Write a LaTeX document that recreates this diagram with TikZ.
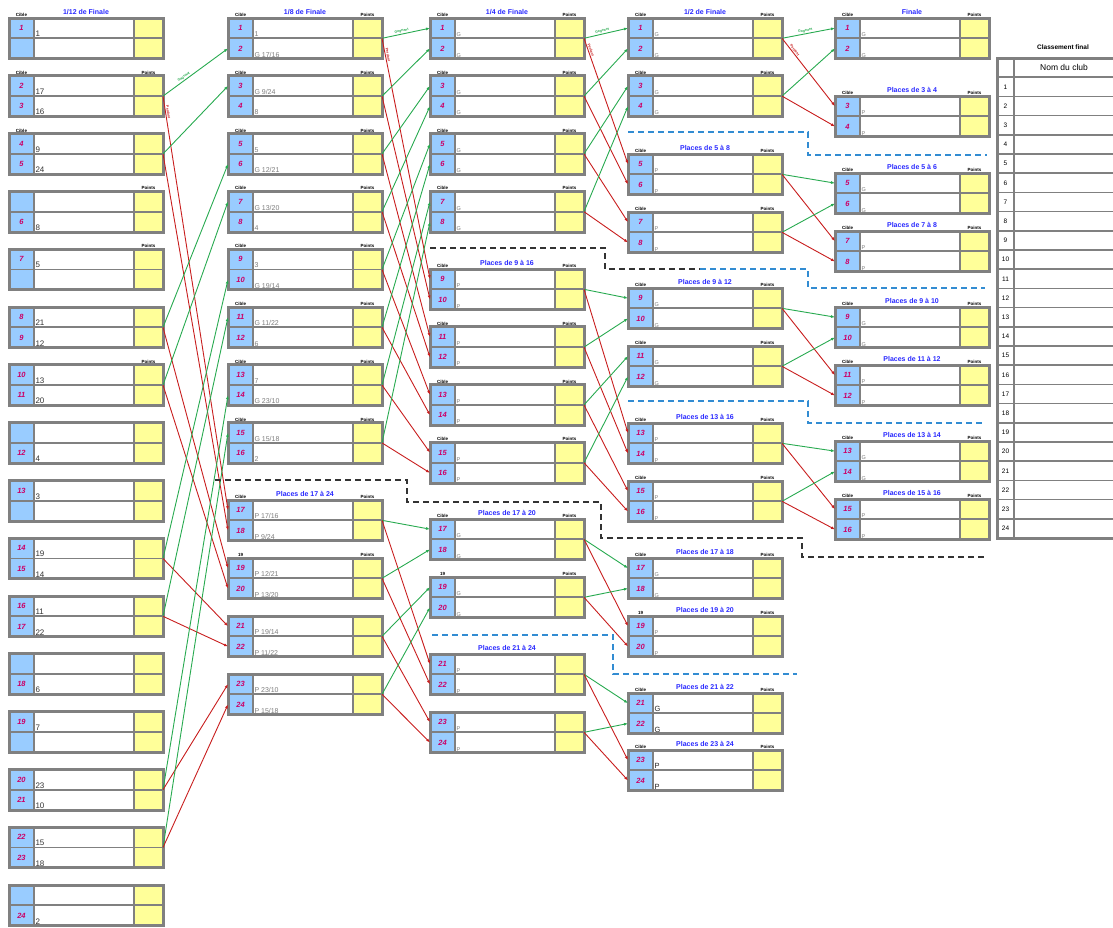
\documentclass[tikz,border=0pt]{standalone}
\usepackage{fontspec}
\setmainfont{Liberation Sans}
\usetikzlibrary{arrows.meta,positioning,fit}
\definecolor{cibleblue}{RGB}{153,204,255}
\definecolor{pointsyellow}{RGB}{255,255,153}
\definecolor{framegray}{RGB}{128,128,128}
\definecolor{titleblue}{RGB}{40,40,255}
\definecolor{ciblepink}{RGB}{204,0,102}
\definecolor{winnergreen}{RGB}{40,170,80}
\definecolor{loserred}{RGB}{200,30,30}
\definecolor{namegray}{RGB}{125,125,125}
\definecolor{sepblue}{RGB}{50,140,210}
\tikzset{
    % Cells of a match box
    cibletab/.style={
        rectangle, draw=framegray, fill=cibleblue, line width=1.8pt,
        minimum width=25pt, minimum height=20.3pt, inner sep=0pt, outer sep=0pt,
        font=\fontsize{7.5}{7.5}\selectfont\bfseries\itshape, text=ciblepink
    },
    nametab/.style={cibletab, fill=white, minimum width=100pt},
    pointstab/.style={cibletab, fill=pointsyellow, minimum width=29pt},
    matchframe/.style={draw=framegray, line width=3pt, inner sep=0pt, outer sep=0pt},
    % Texts of the boxes
    headtext/.style={font=\fontsize{4.5}{5}\selectfont\bfseries, inner sep=1.2pt},
    nametext/.style={font=\fontsize{5.5}{6}\selectfont, text=namegray, inner sep=1.3pt},
    roundtitle/.style={font=\fontsize{7}{8}\selectfont\bfseries, text=titleblue, inner sep=1pt},
}
\tikzset{
    % Connectors between rounds
    winneredge/.style={line width=0.9pt, winnergreen, -{Latex[length=4pt,width=3pt]}},
    loseredge/.style={line width=0.9pt, loserred, -{Latex[length=4pt,width=3pt]}},
    edgetag/.style={font=\fontsize{3.5}{4}\selectfont\bfseries, sloped, above, inner sep=1pt},
    % Separators between groups of places
    bluesep/.style={sepblue, line width=1.1pt, dash pattern=on 6pt off 4pt},
    blacksep/.style={black!80, line width=1.1pt, dash pattern=on 6pt off 4pt},
    % Final ranking table
    ranktab/.style={
        rectangle, draw=framegray, line width=1.6pt, minimum width=17pt,
        minimum height=19.2pt, inner sep=0pt, outer sep=0pt,
        font=\fontsize{6.5}{7}\selectfont
    },
    clubtab/.style={ranktab, minimum width=100pt, font=\fontsize{8.5}{9}\selectfont},
}
% one match: two rows of cible / name / points
\newcommand{\duel}[9]{%
    \node[cibletab, anchor=north west, label={[headtext]above:#8}] (#1) at (#3) {#4};
    \node[nametab, anchor=west, label={[nametext,anchor=south west]south west:#5}] (#1-n) at (#1.east) {};
    \node[pointstab, anchor=west, label={[headtext]above:#9}] (#1-p) at (#1-n.east) {};
    \node[cibletab, anchor=north] (#2) at (#1.south) {#6};
    \node[nametab, anchor=west, label={[nametext,anchor=south west]south west:#7}] (#2-n) at (#2.east) {};
    \node[pointstab, anchor=west] (#2-p) at (#2-n.east) {};
    \node[matchframe, fit=(#1)(#2-p)] (#1-box) {};
    \coordinate (#1-out) at (#1-p.south east);
}
\begin{document}
\begin{tikzpicture}[x=1pt, y=-1pt]
  \useasboundingbox (0,0) rectangle (1113,927);

  % 1/12 de Finale
  \begin{scope}[nametext/.style={font=\fontsize{8}{8}\selectfont, text=black!80, inner sep=1.3pt}]
    \duel{dz1}{dz2}{9,18}{1}{1}{}{}{Cible}{}
    \duel{dz3}{dz4}{9,75.8}{2}{17}{3}{16}{Cible}{Points}
    \duel{dz5}{dz6}{9,133.6}{4}{9}{5}{24}{Cible}{}
    \duel{dz7}{dz8}{9,191.4}{}{}{6}{8}{}{Points}
    \duel{dz9}{dz10}{9,249.2}{7}{5}{}{}{}{Points}
    \duel{dz11}{dz12}{9,307}{8}{21}{9}{12}{}{}
    \duel{dz13}{dz14}{9,364.8}{10}{13}{11}{20}{}{Points}
    \duel{dz15}{dz16}{9,422.6}{}{}{12}{4}{}{}
    \duel{dz17}{dz18}{9,480.4}{13}{3}{}{}{}{}
    \duel{dz19}{dz20}{9,538.2}{14}{19}{15}{14}{}{}
    \duel{dz21}{dz22}{9,596}{16}{11}{17}{22}{}{}
    \duel{dz23}{dz24}{9,653.8}{}{}{18}{6}{}{}
    \duel{dz25}{dz26}{9,711.6}{19}{7}{}{}{}{}
    \duel{dz27}{dz28}{9,769.4}{20}{23}{21}{10}{}{}
    \duel{dz29}{dz30}{9,827.2}{22}{15}{23}{18}{}{}
    \duel{dz31}{dz32}{9,885}{}{}{24}{2}{}{}
  \end{scope}
  \node[roundtitle, above=2pt of dz1-box] (t-dz1) {1/12 de Finale};

  % 1/8 de Finale
  \begin{scope}[nametext/.style={font=\fontsize{7}{7}\selectfont, text=namegray, inner sep=1.3pt}]
    \duel{hu1}{hu2}{228,18}{1}{1}{2}{G 17/16}{Cible}{Points}
    \duel{hu3}{hu4}{228,75.8}{3}{G 9/24}{4}{8}{Cible}{Points}
    \duel{hu5}{hu6}{228,133.6}{5}{5}{6}{G 12/21}{Cible}{Points}
    \duel{hu7}{hu8}{228,191.4}{7}{G 13/20}{8}{4}{Cible}{Points}
    \duel{hu9}{hu10}{228,249.2}{9}{3}{10}{G 19/14}{Cible}{Points}
    \duel{hu11}{hu12}{228,307}{11}{G 11/22}{12}{6}{Cible}{Points}
    \duel{hu13}{hu14}{228,364.8}{13}{7}{14}{G 23/10}{Cible}{Points}
    \duel{hu15}{hu16}{228,422.6}{15}{G 15/18}{16}{2}{Cible}{Points}
    \duel{hu17}{hu18}{228,500}{17}{P 17/16}{18}{P 9/24}{Cible}{Points}
    \duel{hu19}{hu20}{228,558}{19}{P 12/21}{20}{P 13/20}{19}{Points}
    \duel{hu21}{hu22}{228,616}{21}{P 19/14}{22}{P 11/22}{}{}
    \duel{hu23}{hu24}{228,674}{23}{P 23/10}{24}{P 15/18}{}{}
  \end{scope}
  \node[roundtitle, above=2pt of hu1-box] (t-hu1) {1/8 de Finale};
  \node[roundtitle, above=2pt of hu17-box] (t-hu17) {Places de 17 à 24};

  % 1/4 de Finale
  \duel{qu1}{qu2}{430,18}{1}{G}{2}{G}{Cible}{Points}
  \duel{qu3}{qu4}{430,75.8}{3}{G}{4}{G}{Cible}{Points}
  \duel{qu5}{qu6}{430,133.6}{5}{G}{6}{G}{Cible}{Points}
  \duel{qu7}{qu8}{430,191.4}{7}{G}{8}{G}{Cible}{Points}
  \duel{qu9}{qu10}{430,269}{9}{P}{10}{P}{Cible}{Points}
  \duel{qu11}{qu12}{430,326.8}{11}{P}{12}{P}{Cible}{Points}
  \duel{qu13}{qu14}{430,384.6}{13}{P}{14}{P}{Cible}{Points}
  \duel{qu15}{qu16}{430,442.4}{15}{P}{16}{P}{Cible}{Points}
  \duel{qu17}{qu18}{430,519}{17}{G}{18}{G}{Cible}{Points}
  \duel{qu19}{qu20}{430,577}{19}{G}{20}{G}{19}{Points}
  \duel{qu21}{qu22}{430,654}{21}{P}{22}{P}{}{}
  \duel{qu23}{qu24}{430,712}{23}{P}{24}{P}{}{}
  \node[roundtitle, above=2pt of qu1-box] (t-qu1) {1/4 de Finale};
  \node[roundtitle, above=2pt of qu9-box] (t-qu9) {Places de 9 à 16};
  \node[roundtitle, above=2pt of qu17-box] (t-qu17) {Places de 17 à 20};
  \node[roundtitle, above=2pt of qu21-box] (t-qu21) {Places de 21 à 24};

  % 1/2 de Finale
  \duel{de1}{de2}{628,18}{1}{G}{2}{G}{Cible}{Points}
  \duel{de3}{de4}{628,75.8}{3}{G}{4}{G}{Cible}{Points}
  \duel{de5}{de6}{628,154}{5}{P}{6}{P}{Cible}{Points}
  \duel{de7}{de8}{628,212}{7}{P}{8}{P}{Cible}{Points}
  \duel{de9}{de10}{628,288}{9}{G}{10}{G}{Cible}{Points}
  \duel{de11}{de12}{628,346}{11}{G}{12}{G}{Cible}{Points}
  \duel{de13}{de14}{628,423}{13}{P}{14}{P}{Cible}{Points}
  \duel{de15}{de16}{628,481}{15}{P}{16}{P}{Cible}{Points}
  \duel{de17}{de18}{628,558}{17}{G}{18}{G}{Cible}{Points}
  \duel{de19}{de20}{628,616}{19}{P}{20}{P}{19}{Points}
  \begin{scope}[nametext/.style={font=\fontsize{7.5}{7.5}\selectfont, text=black!85, inner sep=1.3pt}]
    \duel{de21}{de22}{628,693}{21}{G}{22}{G}{Cible}{Points}
    \duel{de23}{de24}{628,750}{23}{P}{24}{P}{Cible}{Points}
  \end{scope}
  \node[roundtitle, above=2pt of de1-box] (t-de1) {1/2 de Finale};
  \node[roundtitle, above=2pt of de5-box] (t-de5) {Places de 5 à 8};
  \node[roundtitle, above=2pt of de9-box] (t-de9) {Places de 9 à 12};
  \node[roundtitle, above=2pt of de13-box] (t-de13) {Places de 13 à 16};
  \node[roundtitle, above=2pt of de17-box] (t-de17) {Places de 17 à 18};
  \node[roundtitle, above=2pt of de19-box] (t-de19) {Places de 19 à 20};
  \node[roundtitle, above=2pt of de21-box] (t-de21) {Places de 21 à 22};
  \node[roundtitle, above=2pt of de23-box] (t-de23) {Places de 23 à 24};

  % Finale
  \duel{fi1}{fi2}{835,18}{1}{G}{2}{G}{Cible}{Points}
  \duel{fi3}{fi4}{835,96}{3}{P}{4}{P}{Cible}{Points}
  \duel{fi5}{fi6}{835,173}{5}{G}{6}{G}{Cible}{Points}
  \duel{fi7}{fi8}{835,231}{7}{P}{8}{P}{Cible}{Points}
  \duel{fi9}{fi10}{835,307}{9}{G}{10}{G}{Cible}{Points}
  \duel{fi11}{fi12}{835,365}{11}{P}{12}{P}{Cible}{Points}
  \duel{fi13}{fi14}{835,441}{13}{G}{14}{G}{Cible}{Points}
  \duel{fi15}{fi16}{835,499}{15}{P}{16}{P}{Cible}{Points}
  \node[roundtitle, above=2pt of fi1-box] (t-fi1) {Finale};
  \node[roundtitle, above=2pt of fi3-box] (t-fi3) {Places de 3 à 4};
  \node[roundtitle, above=2pt of fi5-box] (t-fi5) {Places de 5 à 6};
  \node[roundtitle, above=2pt of fi7-box] (t-fi7) {Places de 7 à 8};
  \node[roundtitle, above=2pt of fi9-box] (t-fi9) {Places de 9 à 10};
  \node[roundtitle, above=2pt of fi11-box] (t-fi11) {Places de 11 à 12};
  \node[roundtitle, above=2pt of fi13-box] (t-fi13) {Places de 13 à 14};
  \node[roundtitle, above=2pt of fi15-box] (t-fi15) {Places de 15 à 16};

  % 1/12 -> 1/8
  \draw[winneredge] (dz3-out) -- node[edgetag, pos=0.35] {Gagnant} (hu2.west);
  \draw[loseredge] (dz3-out) -- node[edgetag, pos=0.04] {Perdant} (hu17.west);
  \foreach \s/\g/\p in {5/3/18, 11/6/19, 13/7/20, 19/10/21, 21/11/22, 27/14/23, 29/15/24}{
    \draw[winneredge] (dz\s-out) -- (hu\g.west);
    \draw[loseredge] (dz\s-out) -- (hu\p.west);
  }
  % 1/8 -> 1/4
  \draw[winneredge] (hu1-out) -- node[edgetag, pos=0.42] {Gagnant} (qu1.west);
  \draw[loseredge] (hu1-out) -- node[edgetag, pos=0.07] {Perdant} (qu9.west);
  \foreach \s/\g/\p in {3/2/10, 5/3/11, 7/4/12, 9/5/13, 11/6/14, 13/7/15, 15/8/16,
                        17/17/21, 19/18/22, 21/19/23, 23/20/24}{
    \draw[winneredge] (hu\s-out) -- (qu\g.west);
    \draw[loseredge] (hu\s-out) -- (qu\p.west);
  }
  % 1/4 -> 1/2
  \draw[winneredge] (qu1-out) -- node[edgetag, pos=0.43] {Gagnant} (de1.west);
  \draw[loseredge] (qu1-out) -- node[edgetag, pos=0.1] {Perdant} (de5.west);
  \foreach \s/\g/\p in {3/2/6, 5/3/7, 7/4/8, 9/9/13, 11/10/14, 13/11/15, 15/12/16,
                        17/17/19, 19/18/20, 21/21/23, 23/22/24}{
    \draw[winneredge] (qu\s-out) -- (de\g.west);
    \draw[loseredge] (qu\s-out) -- (de\p.west);
  }
  % 1/2 -> Finale
  \draw[winneredge] (de1-out) -- node[edgetag, pos=0.45] {Gagnant} (fi1.west);
  \draw[loseredge] (de1-out) -- node[edgetag, pos=0.2] {Perdant} (fi3.west);
  \foreach \s/\g/\p in {3/2/4, 5/5/7, 7/6/8, 9/9/11, 11/10/12, 13/13/15, 15/14/16}{
    \draw[winneredge] (de\s-out) -- (fi\g.west);
    \draw[loseredge] (de\s-out) -- (fi\p.west);
  }

  % separators
  \draw[blacksep] (430,248) -- (605,248) -- (605,269) -- (700,269);
  \draw[bluesep] (700,269) -- (808,269) -- (808,288) -- (985,288);
  \draw[blacksep] (215,480) -- (407,480) -- (407,502) -- (601,502) -- (601,538)
                  -- (802,538) -- (802,557) -- (985,557);
  \draw[bluesep] (628,132) -- (808,132) -- (808,155) -- (987,155);
  \draw[bluesep] (628,401) -- (808,401) -- (808,423) -- (985,423);
  \draw[bluesep] (432,635) -- (613,635) -- (613,674) -- (797,674);

  % Classement final
  \node[font=\fontsize{6.5}{7}\selectfont\bfseries] (rank-title) at (1063,47) {Classement final};
  \node[ranktab, anchor=north west] (rank0) at (997,58) {};
  \node[clubtab, anchor=west] (club0) at (rank0.east) {Nom du club};
  \foreach \i [remember=\i as \j (initially 0)] in {1,...,24}{
    \node[ranktab, anchor=north] (rank\i) at (rank\j.south) {\i};
    \node[clubtab, anchor=west] (club\i) at (rank\i.east) {};
  }
  \node[matchframe, fit=(rank0)(club24)] (rank-box) {};
\end{tikzpicture}
\end{document}
